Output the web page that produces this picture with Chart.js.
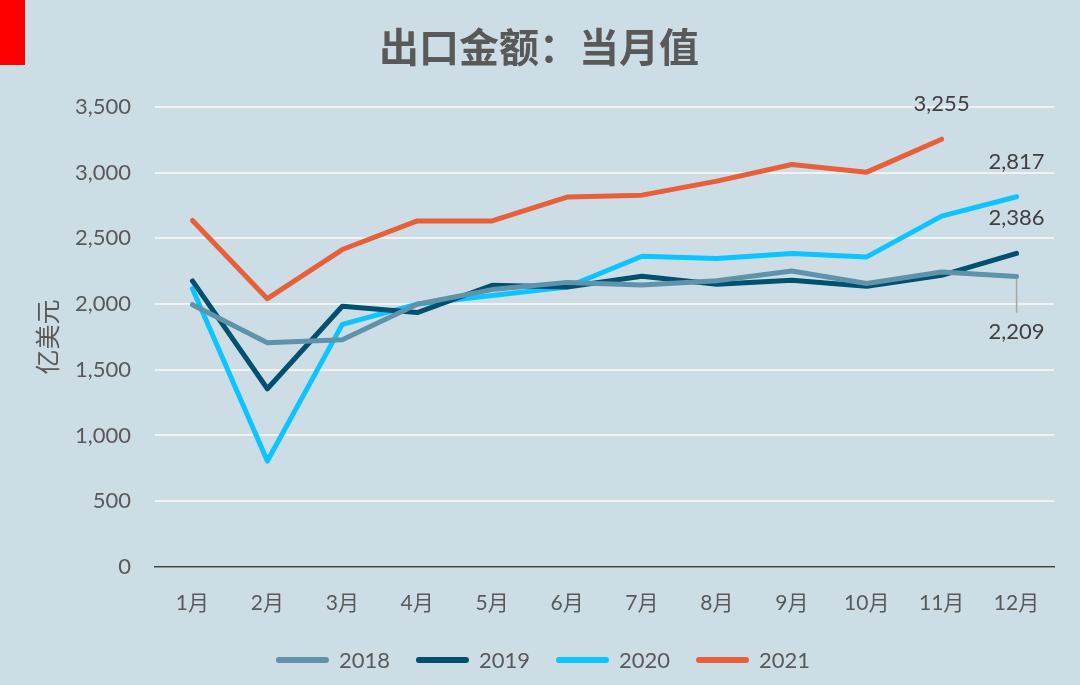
<!DOCTYPE html>
<html>
<head>
<meta charset="utf-8">
<script src="https://cdn.jsdelivr.net/npm/chart.js@4.4.1/dist/chart.umd.min.js"></script>
<style>
  html, body { margin: 0; padding: 0; background: #CDDDE6; }
  #wrap { position: relative; width: 1080px; height: 685px; }
  #red { position: absolute; left: 0; top: 0; width: 25px; height: 65px; background: #FF0000; z-index: 2; }
  canvas { display: block; }
</style>
</head>
<body>
<div id="wrap">
  <div id="red"></div>
  <canvas id="c" width="1080" height="685"></canvas>
</div>
<script>
const categories = ['1月','2月','3月','4月','5月','6月','7月','8月','9月','10月','11月','12月'];
const s2018 = [1995, 1706, 1729, 1998, 2110, 2165, 2145, 2178, 2252, 2156, 2244, 2209];
const s2019 = [2176, 1355, 1983, 1935, 2143, 2130, 2211, 2150, 2181, 2135, 2219, 2386];
const s2020 = [2117, 805, 1845, 2000, 2065, 2130, 2364, 2346, 2384, 2359, 2669, 2817];
const s2021 = [2636, 2041, 2415, 2633, 2633, 2814, 2829, 2936, 3062, 3004, 3255, null];
const yTicks = [0, 500, 1000, 1500, 2000, 2500, 3000, 3500];
const seriesNames = ['2018', '2019', '2020', '2021'];
const seriesColors = ['#5E93AB', '#00506F', '#0CC4FF', '#E8603A'];
const chartTitle = '出口金额：当月值';
// labelled points: [datasetIndex, pointIndex, placement]
const pointLabels = [[3, 10, 'above'], [2, 11, 'above'], [1, 11, 'above'], [0, 11, 'below']];

const fontFam = "Lato, 'Noto Sans CJK SC', sans-serif";
const cjkFam = "'Noto Sans CJK SC', sans-serif";

const labelPlugin = {
  id: 'pointLabels',
  afterDatasetsDraw(chart) {
    const ctx = chart.ctx;
    ctx.save();
    ctx.font = '22px ' + fontFam;
    ctx.fillStyle = '#404040';
    ctx.textAlign = 'center';
    ctx.textBaseline = 'middle';
    pointLabels.forEach(([di, pi, place]) => {
      const meta = chart.getDatasetMeta(di);
      const pt = meta.data[pi];
      const v = chart.data.datasets[di].data[pi];
      const txt = v.toLocaleString('en-US');
      if (place === 'above') {
        ctx.fillText(txt, pt.x, pt.y - 35);
      } else {
        ctx.strokeStyle = '#A6A6A6';
        ctx.lineWidth = 1.5;
        ctx.beginPath();
        ctx.moveTo(pt.x, pt.y + 2);
        ctx.lineTo(pt.x, pt.y + 36);
        ctx.stroke();
        ctx.fillText(txt, pt.x, pt.y + 55);
      }
    });
    ctx.restore();
  }
};

const titleLegendPlugin = {
  id: 'titleLegend',
  afterDraw(chart) {
    const ctx = chart.ctx;
    ctx.save();
    // title
    ctx.font = 'bold 40px ' + cjkFam;
    ctx.fillStyle = '#595959';
    ctx.textAlign = 'center';
    ctx.textBaseline = 'middle';
    ctx.fillText(chartTitle, 539, 47);
    // legend
    ctx.font = '22px ' + fontFam;
    ctx.textAlign = 'left';
    const boxW = 53, gapText = 10, gapItem = 26, y = 660;
    const items = chart.data.datasets.map(ds => ({ text: ds.label, color: ds.borderColor, w: boxW + gapText + ctx.measureText(ds.label).width }));
    const total = items.reduce((a, it) => a + it.w, 0) + gapItem * (items.length - 1);
    let x = (chart.width - total) / 2 + 3;
    items.forEach(it => {
      ctx.strokeStyle = it.color;
      ctx.lineWidth = 6;
      ctx.lineCap = 'round';
      ctx.beginPath();
      ctx.moveTo(x + 3, y);
      ctx.lineTo(x + boxW - 3, y);
      ctx.stroke();
      ctx.fillStyle = '#595959';
      ctx.fillText(it.text, x + boxW + gapText, y + 1);
      x += it.w + gapItem;
    });
    ctx.restore();
  }
};

const datasets = [s2018, s2019, s2020, s2021].map((d, i) => ({
  label: seriesNames[i],
  data: d,
  borderColor: seriesColors[i],
  backgroundColor: seriesColors[i],
  borderWidth: 5,
  pointRadius: 0,
  tension: 0,
  borderCapStyle: 'round',
  borderJoinStyle: 'round',
  spanGaps: false
}));

new Chart(document.getElementById('c'), {
  type: 'line',
  data: { labels: categories, datasets },
  plugins: [labelPlugin, titleLegendPlugin],
  options: {
    responsive: false,
    animation: false,
    layout: { padding: { left: 0, right: 26, top: 107, bottom: 45 } },
    plugins: {
      title: { display: false },
      legend: { display: false },
      tooltip: { enabled: false }
    },
    scales: {
      x: {
        offset: true,
        grid: { display: false, drawTicks: false },
        border: { display: true, color: '#404040', width: 1.5 },
        ticks: { color: '#595959', font: { family: fontFam, size: 21 }, padding: 24 }
      },
      y: {
        min: 0,
        max: 3500,
        afterBuildTicks(scale) { scale.ticks = yTicks.map(v => ({ value: v })); },
        afterFit(scale) { scale.width = 155; },
        grid: { color: '#F2F2F2', lineWidth: 2, drawTicks: false },
        border: { display: false },
        ticks: {
          color: '#595959',
          font: { family: fontFam, size: 22 },
          padding: 24,
          callback: v => v.toLocaleString('en-US')
        },
        title: {
          display: true,
          text: '亿美元',
          color: '#595959',
          font: { family: cjkFam, size: 25 },
          padding: { top: 32, bottom: 10 }
        }
      }
    }
  }
});
</script>
</body>
</html>
